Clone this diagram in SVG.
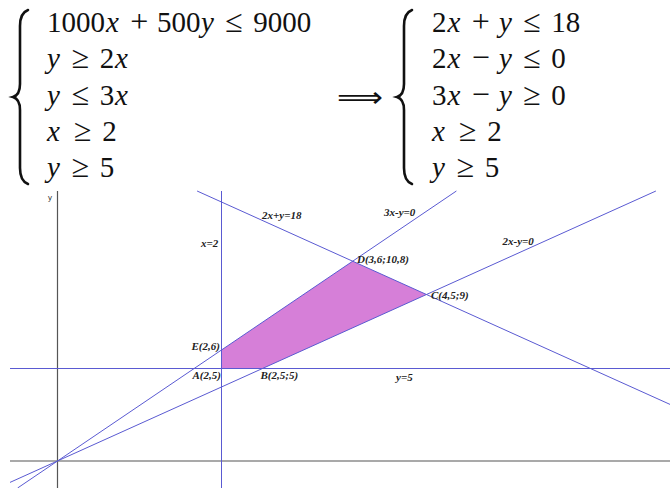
<svg xmlns="http://www.w3.org/2000/svg" width="670" height="488" viewBox="0 0 670 488">
<style>
.eq{font-size:29px;fill:#111}
.i{font-style:italic}
.r{font-size:32px}
.o{font-size:32px}
.brace{fill:none;stroke:#111;stroke-width:2.6;stroke-linecap:round}
.ax{stroke:#555;stroke-width:1.2;fill:none}
.ln{stroke:#5a5ad2;stroke-width:1;fill:none}
.lb{font-size:11px;font-style:italic;font-weight:bold;fill:#222}
.reg{fill:#d67fd8;stroke:none}
</style>
<rect width="670" height="488" fill="#fff"/>
<g id="system-left" font-family="Liberation Serif, serif">
<path class="brace" d="M28,10 Q20,13 20,26 L20,84 Q20,95 13,97 Q20,99 20,110 L20,168 Q20,181 28,184"/>
<text class="eq" y="32"><tspan x="47">1000</tspan><tspan class="i" x="106">x</tspan><tspan class="o" x="130.3">+</tspan><tspan x="157">500</tspan><tspan class="i" x="201">y</tspan><tspan class="r" x="225.2">≤</tspan><tspan x="253.3">9000</tspan></text>
<text class="eq" y="68.3"><tspan class="i" x="47">y</tspan><tspan class="r" x="71.7">≥</tspan><tspan x="99.8">2</tspan><tspan class="i" x="115">x</tspan></text>
<text class="eq" y="104.5"><tspan class="i" x="47">y</tspan><tspan class="r" x="71.7">≤</tspan><tspan x="99.8">3</tspan><tspan class="i" x="115">x</tspan></text>
<text class="eq" y="140.5"><tspan class="i" x="47">x</tspan><tspan class="r" x="74.1">≥</tspan><tspan x="102.2">2</tspan></text>
<text class="eq" y="176.5"><tspan class="i" x="47">y</tspan><tspan class="r" x="71.7">≥</tspan><tspan x="99.8">5</tspan></text>
</g>
<g id="implies">
<text x="337" y="107" font-family="DejaVu Sans, sans-serif" font-size="29" fill="#111" textLength="46" lengthAdjust="spacingAndGlyphs">⟹</text>
</g>
<g id="system-right" font-family="Liberation Serif, serif">
<path class="brace" d="M412,10 Q404,13 404,26 L404,84 Q404,95 397,97 Q404,99 404,110 L404,168 Q404,181 412,184"/>
<text class="eq" y="32"><tspan x="432">2</tspan><tspan class="i" x="447.5">x</tspan><tspan class="o" x="471.8">+</tspan><tspan class="i" x="499">y</tspan><tspan class="r" x="523.2">≤</tspan><tspan x="551.3">18</tspan></text>
<text class="eq" y="68.3"><tspan x="432">2</tspan><tspan class="i" x="447.5">x</tspan><tspan class="o" x="471.8">−</tspan><tspan class="i" x="499">y</tspan><tspan class="r" x="523.2">≤</tspan><tspan x="551.3">0</tspan></text>
<text class="eq" y="104.5"><tspan x="432">3</tspan><tspan class="i" x="447.5">x</tspan><tspan class="o" x="471.8">−</tspan><tspan class="i" x="499">y</tspan><tspan class="r" x="523.2">≥</tspan><tspan x="551.3">0</tspan></text>
<text class="eq" y="140.5"><tspan class="i" x="432">x</tspan><tspan class="r" x="459.1">≥</tspan><tspan x="487.2">2</tspan></text>
<text class="eq" y="176.5"><tspan class="i" x="432">y</tspan><tspan class="r" x="456.7">≥</tspan><tspan x="484.8">5</tspan></text>
</g>
<g id="region">
<polygon class="reg" points="221.5,350 352.7,261.2 426.5,294.5 262.5,368.5 221.5,368.5"/>
</g>
<g id="connectors">
<line id="x-axis" class="ax" x1="10" y1="461" x2="670" y2="461"/>
<line id="y-axis" class="ax" x1="57.5" y1="191" x2="57.5" y2="488"/>
<line id="x2" class="ln" x1="221.5" y1="191" x2="221.5" y2="488"/>
<line id="y5" class="ln" x1="10" y1="368.5" x2="670" y2="368.5"/>
<line id="l18" class="ln" x1="197.1" y1="191" x2="670" y2="404.4"/>
<line id="l3x" class="ln" x1="17.6" y1="488" x2="456.4" y2="191"/>
<line id="l2x" class="ln" x1="10" y1="482.4" x2="655.9" y2="191"/>
</g>
<g id="labels" font-family="Liberation Serif, serif">
<text x="48" y="200" font-family="Liberation Sans, sans-serif" font-size="8" fill="#333">y</text>
<text class="lb" x="262" y="218.5">2x+y=18</text>
<text class="lb" x="384" y="215.5">3x-y=0</text>
<text class="lb" x="201" y="246.5">x=2</text>
<text class="lb" x="357" y="262.5">D(3,6;10,8)</text>
<text class="lb" x="502.5" y="244.5">2x-y=0</text>
<text class="lb" x="431" y="298.5">C(4,5;9)</text>
<text class="lb" x="191.5" y="350">E(2,6)</text>
<text class="lb" x="192.5" y="379">A(2,5)</text>
<text class="lb" x="260.5" y="379">B(2,5;5)</text>
<text class="lb" x="396" y="381">y=5</text>
</g>
</svg>
